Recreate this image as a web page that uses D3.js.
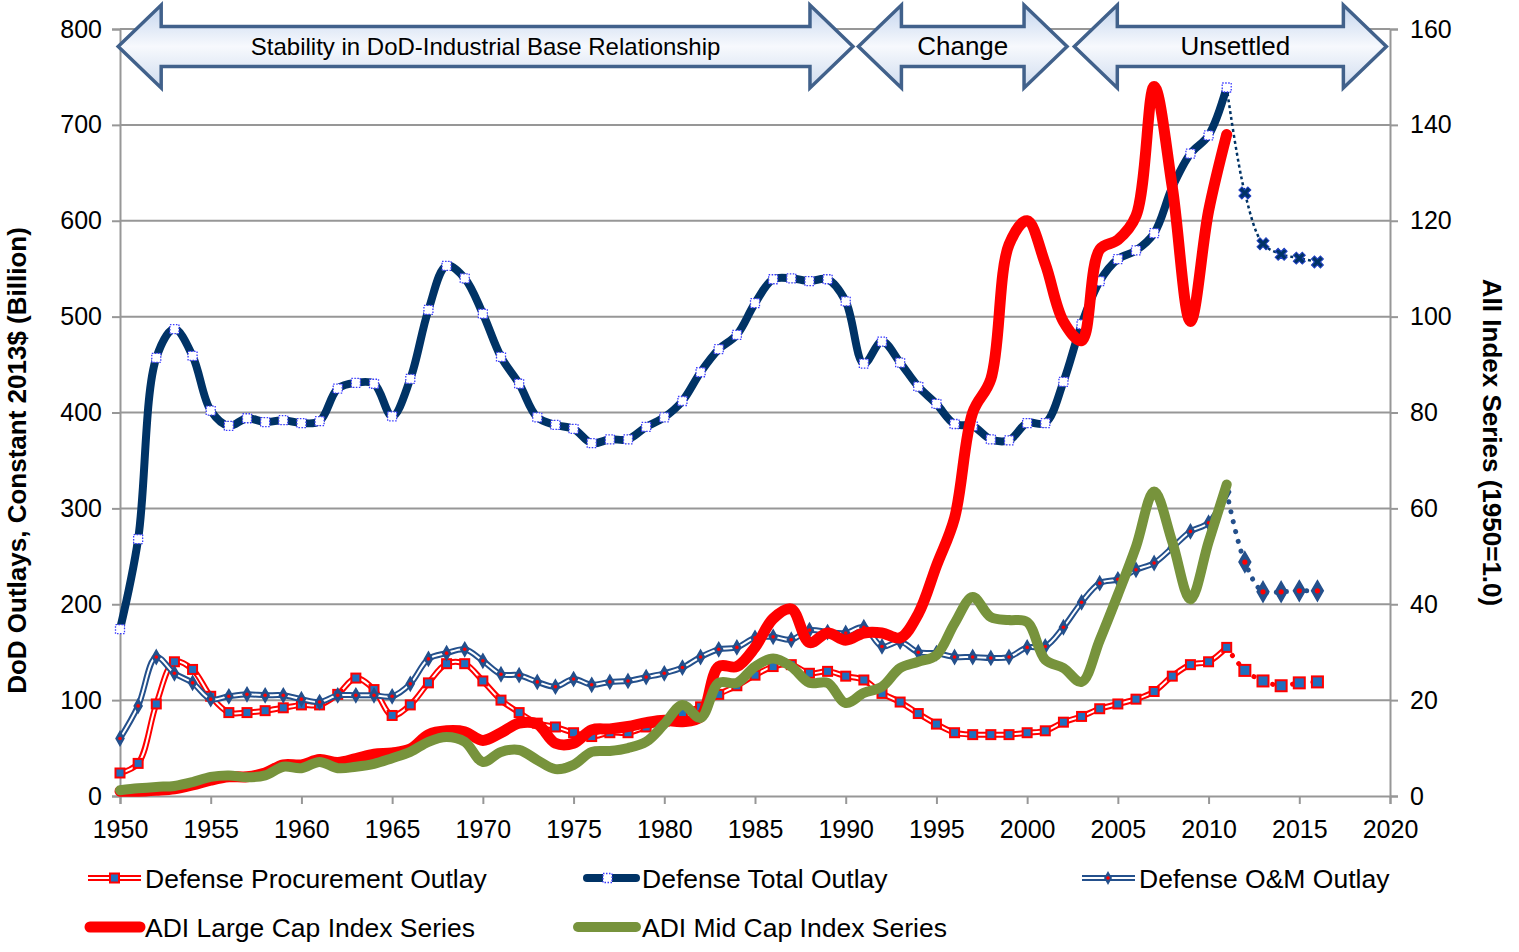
<!DOCTYPE html>
<html>
<head>
<meta charset="utf-8">
<script src="https://cdn.jsdelivr.net/npm/d3@7"></script>
<style>
  body { margin: 0; background: #fff; }
  svg text { font-family: "Liberation Sans", Arial, sans-serif; fill: #000; }
</style>
</head>
<body>
<svg id="chart" width="1519" height="952"></svg>
<script>
// years for the outlay series (actuals to 2011, projection to 2016)
const outlayYears = d3.range(1950, 2017);
const LAST_ACTUAL_YEAR = 2011;

const procurementOutlay = [
  24, 34, 96, 140, 132, 104, 87, 87, 89, 92, 95, 95, 106, 123, 111, 84, 95, 118, 138, 138,
  120, 100, 87, 76, 72, 66, 62, 66, 66, 72, 78, 87, 93, 106, 115, 126, 135, 137, 128, 130,
  125, 121, 107, 98, 86, 75, 66, 64, 64, 64, 66, 68, 77, 83, 91, 96, 101, 109, 125, 137,
  140, 155, 131, 120, 115, 118, 119,
];

const totalOutlay = [
  174, 268, 457, 487, 459, 402, 386, 394, 390, 392, 389, 391, 425, 431, 430, 396, 435, 507, 553, 540,
  503, 458, 430, 395, 387, 383, 368, 372, 372, 385, 395, 412, 442, 466, 481, 514, 539, 540, 537, 539,
  516, 451, 474, 452, 427, 409, 388, 386, 372, 371, 389, 389, 432, 492, 537, 560, 569, 587, 635, 670,
  689, 739, 629, 576, 565, 561, 557,
];

const omOutlay = [
  60, 94, 145, 128, 118, 101, 104, 106, 105, 105, 101, 98, 105, 105, 105, 104, 117, 143, 149, 153,
  141, 127, 126, 119, 114, 122, 116, 119, 120, 124, 128, 134, 145, 153, 155, 165, 166, 163, 173, 171,
  170, 176, 156, 161, 150, 149, 145, 145, 144, 145, 155, 156, 176, 202, 222, 226, 236, 243, 259, 276,
  285, 317, 244, 213, 213, 214, 214,
];

// index series, 1950 = 1.0
const indexYears = d3.range(1950, 2012);

const largeCapIndex = [
  1.0, 1.0, 1.2, 1.5, 2.3, 3.3, 4.0, 4.0, 4.8, 6.5, 6.5, 7.6, 7.0, 7.8, 8.7, 9.0, 9.8, 12.8, 13.6, 13.4,
  11.6, 13.2, 15.2, 15.0, 11.0, 11.0, 13.8, 14.0, 14.5, 15.3, 15.8, 15.5, 16.5, 27, 27, 31, 37, 39, 32, 34,
  32.5, 34, 34, 33, 38, 48, 58, 80, 87, 115, 120, 111, 99, 95, 114, 116, 121, 148, 127, 99,
  122, 138,
];

const midCapIndex = [
  1.2, 1.6, 1.9, 2.1, 2.9, 4.0, 4.3, 3.9, 4.3, 6.1, 5.8, 7.1, 5.8, 6.1, 6.7, 7.9, 9.2, 11.3, 12.3, 11.3,
  7.1, 9.2, 9.6, 7.5, 5.6, 6.5, 9.2, 9.4, 10.0, 11.3, 15.0, 19.0, 16.3, 23.6, 23.6, 27, 28.7, 27, 23.6, 23.6,
  19.4, 21.5, 22.8, 26.7, 28, 29.4, 36, 41.5, 37.3, 36.7, 36.3, 28.4, 26.7, 23.8, 32.5, 42, 52, 63.5, 53, 41,
  53, 65,
];

const xTicks = d3.range(1950, 2021, 5);
const leftTicks = d3.range(0, 801, 100);
const rightTicks = d3.range(0, 161, 20);

const phaseLabels = ['Stability in DoD-Industrial Base Relationship', 'Change', 'Unsettled'];
const phaseStarts = [1949.9, 1990.7, 2002.6];
const phaseEnds = [1990.4, 2002.2, 2019.8];

const LEFT_TITLE = 'DoD Outlays, Constant 2013$ (Billion)';
const RIGHT_TITLE = 'All Index Series (1950=1.0)';

const PLOT_LEFT = 120;
const PLOT_RIGHT = 1390;
const PLOT_TOP = 29;
const PLOT_BOTTOM = 796;
const GRID_COLOR = '#979797';

const NAVY = '#003366';
const OM_BLUE = '#24508c';
const RED = '#ff0000';
const GREEN = '#77933c';
const MARK_BLUE = '#1f6fbf';

const svg = d3.select('#chart');

const x = d3.scaleLinear().domain([1950, 2020]).range([PLOT_LEFT, PLOT_RIGHT]);
const yLeft = d3.scaleLinear().domain([0, 800]).range([PLOT_BOTTOM, PLOT_TOP]);
const yRight = d3.scaleLinear().domain([0, 160]).range([PLOT_BOTTOM, PLOT_TOP]);

drawGridAndAxes();
drawProcurement();
drawTotal();
drawOm();
drawIndex(largeCapIndex, RED, 11);
drawIndex(midCapIndex, GREEN, 10);
drawPhaseArrows();
drawLegend();

function toPoints(years, values) {
  return years.map((year, i) => ({ year, value: values[i] }));
}

function splitActual(values) {
  const all = toPoints(outlayYears, values);
  return {
    actual: all.filter((d) => d.year <= LAST_ACTUAL_YEAR),
    projected: all.filter((d) => d.year >= LAST_ACTUAL_YEAR),
  };
}

function lineLeft() {
  return d3
    .line()
    .x((d) => x(d.year))
    .y((d) => yLeft(d.value))
    .curve(d3.curveCatmullRom.alpha(0.5));
}

function drawGridAndAxes() {
  const grid = svg.append('g');
  grid
    .selectAll('line.grid')
    .data(leftTicks.filter((t) => t > 0))
    .join('line')
    .attr('x1', PLOT_LEFT)
    .attr('x2', PLOT_RIGHT)
    .attr('y1', (d) => yLeft(d))
    .attr('y2', (d) => yLeft(d))
    .attr('stroke', GRID_COLOR)
    .attr('stroke-width', 2);

  const leftAxis = svg
    .append('g')
    .attr('transform', `translate(${PLOT_LEFT},0)`)
    .call(d3.axisLeft(yLeft).tickValues(leftTicks).tickSize(8).tickPadding(10));
  const rightAxis = svg
    .append('g')
    .attr('transform', `translate(${PLOT_RIGHT},0)`)
    .call(d3.axisRight(yRight).tickValues(rightTicks).tickSize(8).tickPadding(12));
  const bottomAxis = svg
    .append('g')
    .attr('transform', `translate(0,${PLOT_BOTTOM})`)
    .call(d3.axisBottom(x).tickValues(xTicks).tickFormat(d3.format('d')).tickSize(8).tickPadding(10));

  [leftAxis, rightAxis, bottomAxis].forEach((axis) => {
    axis.select('.domain').attr('stroke', GRID_COLOR).attr('stroke-width', 2);
    axis.selectAll('.tick line').attr('stroke', GRID_COLOR).attr('stroke-width', 2);
    axis.selectAll('.tick text').attr('font-size', '25px').attr('fill', '#000').style('font-family', '"Liberation Sans", Arial, sans-serif');
  });
  bottomAxis.selectAll('.tick text').attr('dy', '0.95em');

  svg
    .append('text')
    .attr('transform', `translate(26,${(PLOT_TOP + PLOT_BOTTOM) / 2 + 48}) rotate(-90)`)
    .attr('text-anchor', 'middle')
    .attr('font-size', '26px')
    .attr('font-weight', 'bold')
    .text(LEFT_TITLE);

  svg
    .append('text')
    .attr('transform', `translate(1483,${(PLOT_TOP + PLOT_BOTTOM) / 2 + 30}) rotate(90)`)
    .attr('text-anchor', 'middle')
    .attr('font-size', '26px')
    .attr('font-weight', 'bold')
    .text(RIGHT_TITLE);
}

function doubleLine(group, points, color, outer, inner) {
  group.append('path').attr('d', lineLeft()(points)).attr('fill', 'none').attr('stroke', color).attr('stroke-width', outer);
  group.append('path').attr('d', lineLeft()(points)).attr('fill', 'none').attr('stroke', '#fff').attr('stroke-width', inner);
}

function squareMarkers(group, points, size) {
  group
    .selectAll(null)
    .data(points)
    .join('rect')
    .attr('x', (d) => x(d.year) - size / 2)
    .attr('y', (d) => yLeft(d.value) - size / 2)
    .attr('width', size)
    .attr('height', size)
    .attr('fill', MARK_BLUE)
    .attr('stroke', RED)
    .attr('stroke-width', 2);
}

function diamondMarkers(group, points, size, dot) {
  const sym = d3.symbol().type(d3.symbolDiamond).size(size);
  const g = group.selectAll(null).data(points).join('g').attr('transform', (d) => `translate(${x(d.year)},${yLeft(d.value)})`);
  g.append('path').attr('d', sym()).attr('fill', OM_BLUE).attr('stroke', OM_BLUE).attr('stroke-width', 1.5);
  g.append('circle').attr('r', dot).attr('fill', RED);
}

function drawProcurement() {
  const { actual, projected } = splitActual(procurementOutlay);
  const g = svg.append('g');
  doubleLine(g, actual, RED, 6, 2);
  g.append('path')
    .attr('d', lineLeft()(projected))
    .attr('fill', 'none')
    .attr('stroke', RED)
    .attr('stroke-width', 5)
    .attr('stroke-linecap', 'round')
    .attr('stroke-dasharray', '0.1 10');
  squareMarkers(g, actual, 9);
  squareMarkers(g, projected.slice(1), 11);
}

function drawTotal() {
  const { actual, projected } = splitActual(totalOutlay);
  const g = svg.append('g');
  g.append('path')
    .attr('d', lineLeft()(actual))
    .attr('fill', 'none')
    .attr('stroke', NAVY)
    .attr('stroke-width', 8)
    .attr('stroke-linejoin', 'round');
  g.append('path')
    .attr('d', lineLeft()(projected))
    .attr('fill', 'none')
    .attr('stroke', NAVY)
    .attr('stroke-width', 2.5)
    .attr('stroke-dasharray', '3 3');
  g.selectAll(null)
    .data(actual)
    .join('rect')
    .attr('x', (d) => x(d.year) - 4.5)
    .attr('y', (d) => yLeft(d.value) - 4.5)
    .attr('width', 9)
    .attr('height', 9)
    .attr('fill', '#fff')
    .attr('stroke', '#3a3aff')
    .attr('stroke-width', 1.3)
    .attr('stroke-dasharray', '1.5 1.5');
  const cross = d3.symbol().type(d3.symbolCross).size(90);
  g.selectAll(null)
    .data(projected.slice(1))
    .join('path')
    .attr('d', cross())
    .attr('transform', (d) => `translate(${x(d.year)},${yLeft(d.value)}) rotate(45)`)
    .attr('fill', NAVY)
    .attr('stroke', '#2040c0')
    .attr('stroke-width', 1);
}

function drawOm() {
  const { actual, projected } = splitActual(omOutlay);
  const g = svg.append('g');
  doubleLine(g, actual, OM_BLUE, 6, 2);
  g.append('path')
    .attr('d', lineLeft()(projected))
    .attr('fill', 'none')
    .attr('stroke', OM_BLUE)
    .attr('stroke-width', 5)
    .attr('stroke-linecap', 'round')
    .attr('stroke-dasharray', '0.1 10');
  diamondMarkers(g, actual, 55, 1.8);
  diamondMarkers(g, projected.slice(1), 120, 2.6);
}

function drawIndex(values, color, width) {
  const line = d3
    .line()
    .x((d) => x(d.year))
    .y((d) => yRight(d.value))
    .curve(d3.curveCatmullRom.alpha(0.5));
  svg
    .append('path')
    .attr('d', line(toPoints(indexYears, values)))
    .attr('fill', 'none')
    .attr('stroke', color)
    .attr('stroke-width', width)
    .attr('stroke-linecap', 'round')
    .attr('stroke-linejoin', 'round');
}

function drawPhaseArrows() {
  const defs = svg.append('defs');
  const grad = defs.append('linearGradient').attr('id', 'arrowFill').attr('x1', 0).attr('y1', 0).attr('x2', 0).attr('y2', 1);
  grad.append('stop').attr('offset', '0%').attr('stop-color', '#c4d5ee');
  grad.append('stop').attr('offset', '50%').attr('stop-color', '#f7f9fd');
  grad.append('stop').attr('offset', '100%').attr('stop-color', '#cfdcef');

  const yc = 46.5;
  const headHalf = 41.5;
  const shaftHalf = 20;
  const headLen = 43;
  const fontSizes = [24, 26, 26];

  phaseLabels.forEach((label, i) => {
    const x0 = x(phaseStarts[i]);
    const x1 = x(phaseEnds[i]);
    const pts = [
      [x0, yc],
      [x0 + headLen, yc - headHalf],
      [x0 + headLen, yc - shaftHalf],
      [x1 - headLen, yc - shaftHalf],
      [x1 - headLen, yc - headHalf],
      [x1, yc],
      [x1 - headLen, yc + headHalf],
      [x1 - headLen, yc + shaftHalf],
      [x0 + headLen, yc + shaftHalf],
      [x0 + headLen, yc + headHalf],
    ];
    svg
      .append('path')
      .attr('d', 'M' + pts.map((p) => p.join(',')).join('L') + 'Z')
      .attr('fill', 'url(#arrowFill)')
      .attr('stroke', '#41618b')
      .attr('stroke-width', 3.5)
      .attr('stroke-linejoin', 'miter');
    svg
      .append('text')
      .attr('x', (x0 + x1) / 2 + (i === 2 ? 5 : 0))
      .attr('y', yc + 8)
      .attr('text-anchor', 'middle')
      .attr('font-size', fontSizes[i] + 'px')
      .text(label);
  });
}

function drawLegend() {
  const g = svg.append('g');
  const row1 = 878;
  const row2 = 927;

  // Defense Procurement Outlay
  g.append('line').attr('x1', 88).attr('x2', 141).attr('y1', row1).attr('y2', row1).attr('stroke', RED).attr('stroke-width', 6);
  g.append('line').attr('x1', 88).attr('x2', 141).attr('y1', row1).attr('y2', row1).attr('stroke', '#fff').attr('stroke-width', 2);
  g.append('rect').attr('x', 110).attr('y', row1 - 4.5).attr('width', 9).attr('height', 9).attr('fill', MARK_BLUE).attr('stroke', RED).attr('stroke-width', 2);
  g.append('text').attr('x', 145).attr('y', row1 + 10).attr('font-size', '26.5px').text('Defense Procurement Outlay');

  // Defense Total Outlay
  g.append('line').attr('x1', 587).attr('x2', 636).attr('y1', row1).attr('y2', row1).attr('stroke', NAVY).attr('stroke-width', 8).attr('stroke-linecap', 'round');
  g.append('rect').attr('x', 585 + 18).attr('y', row1 - 4.5).attr('width', 9).attr('height', 9).attr('fill', '#fff').attr('stroke', '#3a3aff').attr('stroke-width', 1.3).attr('stroke-dasharray', '1.5 1.5');
  g.append('text').attr('x', 642).attr('y', row1 + 10).attr('font-size', '26.5px').text('Defense Total Outlay');

  // Defense O&M Outlay
  g.append('line').attr('x1', 1082).attr('x2', 1135).attr('y1', row1).attr('y2', row1).attr('stroke', OM_BLUE).attr('stroke-width', 6);
  g.append('line').attr('x1', 1082).attr('x2', 1135).attr('y1', row1).attr('y2', row1).attr('stroke', '#fff').attr('stroke-width', 2);
  const dg = g.append('g').attr('transform', `translate(1108,${row1})`);
  dg.append('path').attr('d', d3.symbol().type(d3.symbolDiamond).size(55)()).attr('fill', OM_BLUE);
  dg.append('circle').attr('r', 1.8).attr('fill', RED);
  g.append('text').attr('x', 1139).attr('y', row1 + 10).attr('font-size', '26.5px').text('Defense O&M Outlay');

  // ADI Large Cap
  g.append('line').attr('x1', 90).attr('x2', 140).attr('y1', row2).attr('y2', row2).attr('stroke', RED).attr('stroke-width', 11).attr('stroke-linecap', 'round');
  g.append('text').attr('x', 145).attr('y', row2 + 10).attr('font-size', '26.5px').text('ADI Large Cap Index Series');

  // ADI Mid Cap
  g.append('line').attr('x1', 578).attr('x2', 636).attr('y1', row2).attr('y2', row2).attr('stroke', GREEN).attr('stroke-width', 10).attr('stroke-linecap', 'round');
  g.append('text').attr('x', 642).attr('y', row2 + 10).attr('font-size', '26.5px').text('ADI Mid Cap Index Series');
}
</script>
</body>
</html>
